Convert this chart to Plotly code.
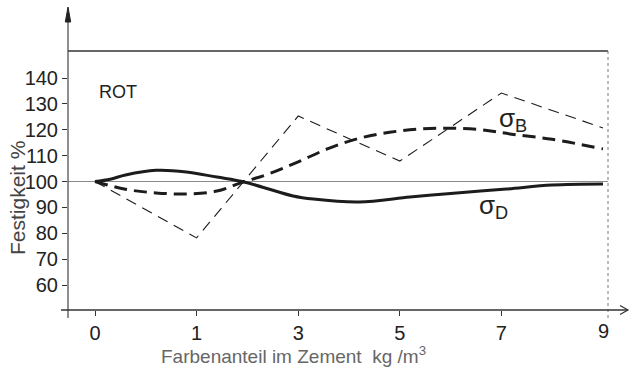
import plotly.graph_objects as go

# Category positions on the x axis and their labels (kg/m3)
x_pos = [0, 1, 2, 3, 4, 5]
x_labels = ["0", "1", "3", "5", "7", "9"]

# Measured strength values (thin dashed zig-zag)
measured = [100, 78.2, 125.3, 107.9, 134.2, 120.7]

# Bending strength trend (sigma_B), thick dashed
sb_x = [0, 0.3, 0.6, 0.9, 1.2, 1.45, 1.7, 2.0, 2.3, 2.6, 2.9, 3.2, 3.5, 3.8, 4.1, 4.5, 5.0]
sb_y = [100, 97, 95.6, 95.2, 96.3, 99.7, 102.8, 107.6, 112.8, 116.7, 119, 120.3, 120.6, 120, 118.3, 116.3, 112.6]

# Compressive strength trend (sigma_D), thick solid
sd_x = [0, 0.15, 0.3, 0.6, 0.9, 1.2, 1.45, 1.65, 1.95, 2.15, 2.6, 3.1, 3.5, 4.05, 4.5, 5.0]
sd_y = [100, 100.9, 102.5, 104.3, 103.7, 101.7, 100, 97.8, 94.4, 93.2, 92.1, 94.0, 95.4, 97.1, 98.6, 99.0]

y_ticks = [60, 70, 80, 90, 100, 110, 120, 130, 140]

# figure geometry (pixels)
W, H = 632, 374
L, R, T, B = 68, 608, 51, 310


def px(x):
    return (x - L) / (R - L)


def py(y):
    return (B - y) / (B - T)


INK = "#1c1c1c"
TICK_FONT = dict(family="Liberation Sans Narrow, Liberation Sans, Arial", size=20, color="#222")

fig = go.Figure()

fig.add_trace(go.Scatter(x=x_pos, y=measured, mode="lines",
                         line=dict(color=INK, width=1.1, dash="11px,7px"),
                         showlegend=False, hoverinfo="skip"))
fig.add_trace(go.Scatter(x=sb_x, y=sb_y, mode="lines", line_shape="spline",
                         line=dict(color=INK, width=3, dash="13px,7px"),
                         showlegend=False, hoverinfo="skip"))
fig.add_trace(go.Scatter(x=sd_x, y=sd_y, mode="lines", line_shape="spline",
                         line=dict(color=INK, width=3),
                         showlegend=False, hoverinfo="skip"))

shapes = [
    # reference line at 100 %
    dict(type="line", xref="paper", yref="y", x0=0, x1=1, y0=100, y1=100,
         line=dict(color="#8a8a8a", width=1.2), layer="below"),
    # frame top
    dict(type="line", xref="paper", yref="paper", x0=0, x1=1, y0=1, y1=1,
         line=dict(color="#333", width=1.3)),
    # frame right (dotted)
    dict(type="line", xref="paper", yref="paper", x0=1, x1=1, y0=py(318), y1=1,
         line=dict(color="#777", width=1, dash="dot")),
    # y axis with arrow
    dict(type="line", xref="paper", yref="paper", x0=0, x1=0, y0=py(318), y1=py(16),
         line=dict(color="#444", width=1.2)),
    dict(type="path", xref="paper", yref="paper",
         path=f"M {px(68)},{py(7)} L {px(65.3)},{py(22)} L {px(70.7)},{py(22)} Z",
         fillcolor="#222", line=dict(color="#222", width=1)),
    # x axis with arrow
    dict(type="line", xref="paper", yref="paper", x0=px(61), x1=px(628), y0=0, y1=0,
         line=dict(color="#333", width=1.3)),
    dict(type="path", xref="paper", yref="paper",
         path=f"M {px(620)},{py(305.5)} L {px(628)},{py(310)} L {px(620)},{py(314.5)}",
         line=dict(color="#333", width=1.2)),
]

annotations = [
    dict(text="ROT", xref="paper", yref="paper", x=px(97), y=py(92), xanchor="left", yanchor="middle",
         showarrow=False, font=dict(family="Liberation Sans", size=18, color="#222")),
    dict(text="σ<sub>B</sub>", xref="paper", yref="paper", x=px(497), y=py(119), xanchor="left",
         yanchor="middle", showarrow=False,
         font=dict(family="Liberation Sans", size=26, color="#222")),
    dict(text="σ<sub>D</sub>", xref="paper", yref="paper", x=px(477), y=py(206), xanchor="left",
         yanchor="middle", showarrow=False,
         font=dict(family="Liberation Sans", size=26, color="#222")),
    dict(text="Festigkeit %", xref="paper", yref="paper", x=px(17), y=py(198), textangle=-90,
         xanchor="center", yanchor="middle", showarrow=False,
         font=dict(family="Liberation Sans", size=21, color="#444")),
    dict(text="Farbenanteil im Zement  kg /m<sup>3</sup>", xref="paper", yref="paper",
         x=px(293), y=py(355), xanchor="center", yanchor="middle", showarrow=False,
         font=dict(family="Liberation Sans", size=19, color="#666")),
]

fig.update_layout(
    width=W, height=H,
    margin=dict(l=L, r=W - R, t=T, b=H - B, pad=0),
    paper_bgcolor="white", plot_bgcolor="white",
    shapes=shapes, annotations=annotations,
    showlegend=False,
)
fig.update_xaxes(range=[(L - 95) / 101.6, (R - 95) / 101.6], tickvals=x_pos[:-1], ticktext=x_labels[:-1],
                 ticks="outside", ticklen=5, tickcolor="#333", tickwidth=1,
                 showline=False, showgrid=False, zeroline=False, tickfont=TICK_FONT)
fig.update_yaxes(range=[100 - (B - 181.5) / 2.5875, 100 + (181.5 - T) / 2.5875], tickvals=y_ticks,
                 ticks="outside", ticklen=5, tickcolor="#333", tickwidth=1,
                 showline=False, showgrid=False, zeroline=False, tickfont=TICK_FONT)

# label "9" sits under the right frame edge
fig.add_annotation(text=x_labels[-1], xref="x", yref="paper", x=x_pos[-1], y=0, yshift=-8,
                   xanchor="center", yanchor="top", showarrow=False, font=TICK_FONT)

fig.write_html("out.html")
